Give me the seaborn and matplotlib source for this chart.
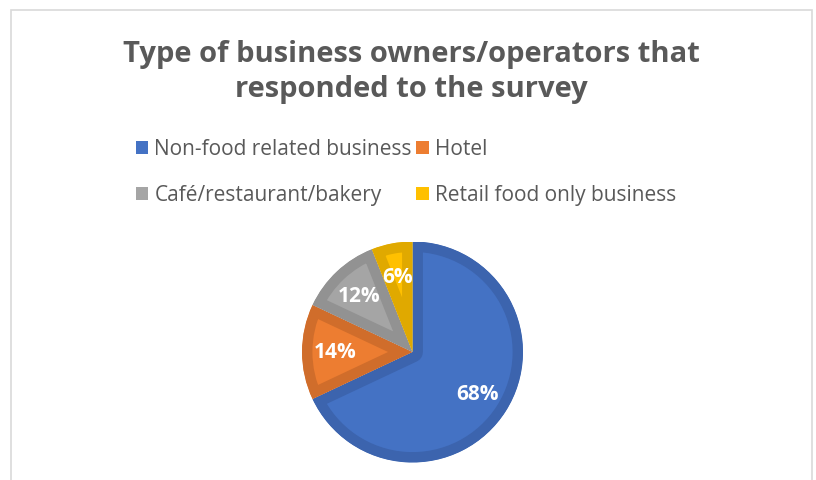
import matplotlib
matplotlib.use("Agg")
import matplotlib.pyplot as plt
from matplotlib.patches import Patch, Rectangle
import seaborn as sns

# Survey data
categories = ["Non-food related business", "Hotel", "Café/restaurant/bakery", "Retail food only business"]
shares = [68, 14, 12, 6]
fill_colors = ["#4472C4", "#ED7D31", "#A5A5A5", "#FFC000"]
edge_colors = ["#3C64AE", "#D06D2B", "#929292", "#E0A900"]
title = "Type of business owners/operators that\nresponded to the survey"

sns.set_theme(style="white")
plt.rcParams['font.family'] = ['Open Sans', 'DejaVu Sans']

W, H = 816, 481
fig = plt.figure(figsize=(W / 100, H / 100), dpi=100)

# chart border
fig.patches.append(Rectangle((11 / W, -0.05), (812 - 11) / W, 1.05 - 11 / H,
                             transform=fig.transFigure, facecolor='none',
                             edgecolor='#D9D9D9', linewidth=1.2))

fig.text(411 / W, 1 - 72 / H, title, ha='center', va='center', fontsize=21,
         fontweight='bold', color='#595959', linespacing=1.25)

# pie
cx, cy, r = 412.5, 353, 110.5
ax = fig.add_axes([(cx - r) / W, 1 - (cy + r) / H, 2 * r / W, 2 * r / H])
wedges, texts, autotexts = ax.pie(shares, colors=fill_colors, startangle=90, counterclock=False,
                                  autopct='%1.0f%%', pctdistance=0.7,
                                  wedgeprops=dict(linewidth=15, joinstyle='round'),
                                  textprops=dict(color='white', fontsize=15, fontweight='bold'))
for w, ec in zip(wedges, edge_colors):
    w.set_edgecolor(ec)
    w.set_clip_path(w)
    w.set_clip_on(True)
ax.set_xlim(-1, 1)
ax.set_ylim(-1, 1)
ax.set_aspect('equal')

# legend, filled row by row like Excel
order = [0, 2, 1, 3]
handles = [Patch(facecolor=fill_colors[i], edgecolor='none') for i in order]
fig.legend(handles, [categories[i] for i in order], ncol=2, loc='center left',
           bbox_to_anchor=(117 / W, 1 - 173 / H), frameon=False, fontsize=15,
           labelcolor='#595959', handlelength=0.6, handleheight=0.6,
           handletextpad=0.3, columnspacing=0.2, labelspacing=1.2)

fig.savefig("out.png", dpi=100)
